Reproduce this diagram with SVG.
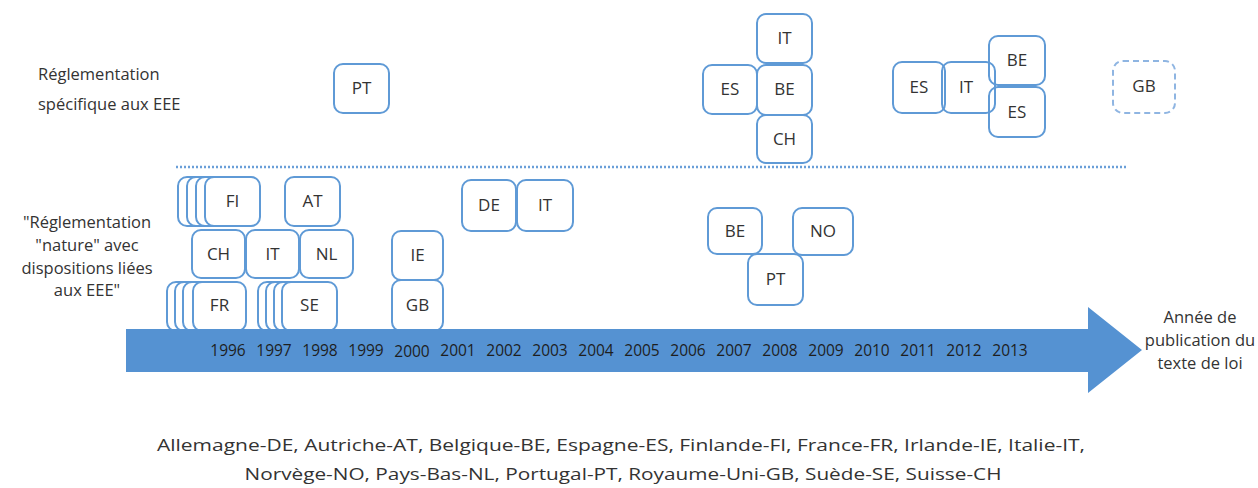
<svg xmlns="http://www.w3.org/2000/svg" width="1258" height="488" viewBox="0 0 1258 488">
<style>
.b{fill:#fff;stroke:#5f9ad6;stroke-width:2}
.o{fill:none;stroke:#5f9ad6;stroke-width:2}
.d{fill:#fff;stroke:#8fb5e2;stroke-width:2;stroke-dasharray:6 4}
.t{font-family:"Open Sans","Liberation Sans",sans-serif;font-size:17px;fill:#333;text-anchor:middle}
.y{font-family:"Open Sans","Liberation Sans",sans-serif;font-size:15.5px;fill:#1e1e1e;text-anchor:middle}
.l{font-family:"Open Sans","Liberation Sans",sans-serif;font-size:16.5px;fill:#333}
</style>
<rect width="1258" height="488" fill="#fff"/>
<g id="labels">
<text class="l" x="38" y="80">Réglementation</text>
<text class="l" x="38" y="110">spécifique aux EEE</text>
<text class="l" text-anchor="middle" x="87" y="228" font-size="17.5">"Réglementation</text>
<text class="l" text-anchor="middle" x="87" y="251" font-size="17.5">"nature" avec</text>
<text class="l" text-anchor="middle" x="87" y="274" font-size="17.5">dispositions liées</text>
<text class="l" text-anchor="middle" x="87" y="296" font-size="17.5">aux EEE"</text>
<text class="l" text-anchor="middle" x="1200" y="323">Année de</text>
<text class="l" text-anchor="middle" x="1200" y="346">publication du</text>
<text class="l" text-anchor="middle" x="1200" y="369">texte de loi</text>
<text class="l" text-anchor="middle" x="621" y="451" font-size="17.5" textLength="928" lengthAdjust="spacingAndGlyphs">Allemagne-DE, Autriche-AT, Belgique-BE, Espagne-ES, Finlande-FI, France-FR, Irlande-IE, Italie-IT,</text>
<text class="l" text-anchor="middle" x="623" y="480" font-size="17.5" textLength="757" lengthAdjust="spacingAndGlyphs">Norvège-NO, Pays-Bas-NL, Portugal-PT, Royaume-Uni-GB, Suède-SE, Suisse-CH</text>
</g>
<g id="connectors">
<line x1="176" y1="167" x2="1127" y2="167" stroke="#6a9fd8" stroke-width="2.5" stroke-dasharray="2 2"/>
</g>
<g id="n-pt-top"><rect class="b" x="334" y="64" width="55" height="49" rx="9"/><text class="t" x="361.5" y="94">PT</text></g>
<g id="n-it-2008"><rect class="o" x="757" y="14" width="55" height="49" rx="9"/><text class="t" x="784.5" y="44">IT</text></g>
<g id="n-es-2008"><rect class="o" x="703" y="65" width="54" height="49" rx="9"/><text class="t" x="730" y="95">ES</text></g>
<g id="n-be-2008"><rect class="o" x="757" y="65" width="55" height="50" rx="9"/><text class="t" x="784.5" y="95">BE</text></g>
<g id="n-ch-2008"><rect class="o" x="757" y="115" width="55" height="48" rx="9"/><text class="t" x="784.5" y="145">CH</text></g>
<g id="n-es-2011"><rect class="o" x="893" y="62" width="52" height="51" rx="9"/><text class="t" x="919" y="93">ES</text></g>
<g id="n-it-2012"><rect class="o" x="942" y="62" width="53" height="51" rx="9"/><text class="t" x="966" y="93">IT</text></g>
<g id="n-be-2013"><rect class="o" x="989" y="36" width="56" height="49" rx="9"/><text class="t" x="1017" y="66">BE</text></g>
<g id="n-es-2013"><rect class="o" x="989" y="87" width="56" height="50" rx="9"/><text class="t" x="1017" y="118">ES</text></g>
<g id="n-gb-dash"><rect class="d" x="1113" y="61" width="62" height="52" rx="10"/><text class="t" x="1144" y="92">GB</text></g>
<g id="n-fi"><rect class="b" x="178" y="177" width="55" height="49" rx="9"/><rect class="b" x="187" y="177" width="55" height="49" rx="9"/><rect class="b" x="196" y="177" width="55" height="49" rx="9"/><rect class="b" x="205" y="177" width="55" height="49" rx="9"/><text class="t" x="232.5" y="207">FI</text></g>
<g id="n-at"><rect class="b" x="285" y="177" width="55" height="49" rx="9"/><text class="t" x="312.5" y="207">AT</text></g>
<g id="n-ch"><rect class="b" x="192" y="230" width="53" height="48" rx="9"/><text class="t" x="218.5" y="260">CH</text></g>
<g id="n-it-1997"><rect class="b" x="246" y="230" width="53" height="48" rx="9"/><text class="t" x="272.5" y="260">IT</text></g>
<g id="n-nl"><rect class="b" x="300" y="230" width="53" height="48" rx="9"/><text class="t" x="326.5" y="260">NL</text></g>
<g id="n-fr"><rect class="b" x="167" y="282" width="53" height="49" rx="9"/><rect class="b" x="175" y="282" width="53" height="49" rx="9"/><rect class="b" x="183" y="282" width="53" height="49" rx="9"/><rect class="b" x="193" y="282" width="53" height="49" rx="9"/><text class="t" x="219.5" y="311">FR</text></g>
<g id="n-se"><rect class="b" x="258" y="282" width="55" height="49" rx="9"/><rect class="b" x="266" y="282" width="55" height="49" rx="9"/><rect class="b" x="274" y="282" width="55" height="49" rx="9"/><rect class="b" x="282" y="282" width="55" height="49" rx="9"/><text class="t" x="309.5" y="311">SE</text></g>
<g id="n-de"><rect class="b" x="462" y="180" width="54" height="51" rx="9"/><text class="t" x="489" y="211">DE</text></g>
<g id="n-it-2003"><rect class="b" x="517" y="180" width="56" height="51" rx="9"/><text class="t" x="545" y="211">IT</text></g>
<g id="n-ie"><rect class="b" x="392" y="231" width="51" height="49" rx="9"/><text class="t" x="417.5" y="261">IE</text></g>
<g id="n-gb"><rect class="b" x="392" y="280" width="51" height="51" rx="9"/><text class="t" x="417.5" y="311">GB</text></g>
<g id="n-be-2007"><rect class="b" x="708" y="208" width="54" height="46" rx="9"/><text class="t" x="735" y="237">BE</text></g>
<g id="n-no"><rect class="b" x="793" y="208" width="60" height="47" rx="9"/><text class="t" x="823" y="237">NO</text></g>
<g id="n-pt-2008"><rect class="b" x="748" y="254" width="55" height="51" rx="9"/><text class="t" x="775.5" y="285">PT</text></g>
<g id="timeline">
<polygon points="126,329 1088,329 1088,307 1142,350 1088,393 1088,372 126,372" fill="#5592d2"/>
<text class="y" x="228" y="356">1996</text>
<text class="y" x="274" y="356">1997</text>
<text class="y" x="320" y="356">1998</text>
<text class="y" x="366" y="356">1999</text>
<text class="y" x="412" y="357">2000</text>
<text class="y" x="458" y="356">2001</text>
<text class="y" x="504" y="356">2002</text>
<text class="y" x="550" y="356">2003</text>
<text class="y" x="596" y="356">2004</text>
<text class="y" x="642" y="356">2005</text>
<text class="y" x="688" y="356">2006</text>
<text class="y" x="734" y="356">2007</text>
<text class="y" x="780" y="356">2008</text>
<text class="y" x="826" y="356">2009</text>
<text class="y" x="872" y="356">2010</text>
<text class="y" x="918" y="356">2011</text>
<text class="y" x="964" y="356">2012</text>
<text class="y" x="1010" y="356">2013</text>
</g>
</svg>
